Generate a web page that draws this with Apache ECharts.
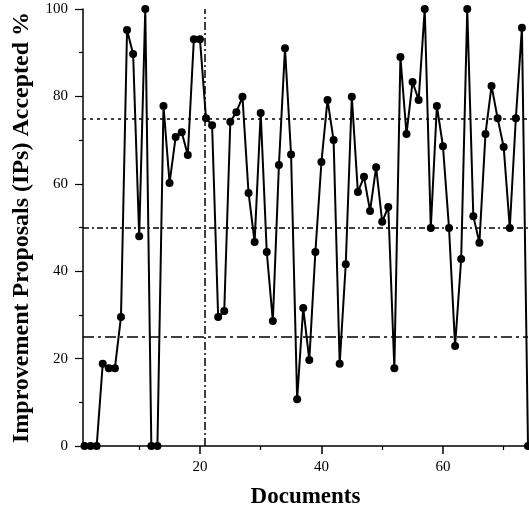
<!DOCTYPE html>
<html>
<head>
<meta charset="utf-8">
<script src="https://cdn.jsdelivr.net/npm/echarts@6/dist/echarts.min.js"></script>
<style>
  html, body { margin: 0; padding: 0; background: #fff; }
  #chart { width: 529px; height: 511px; }
</style>
</head>
<body>
<div id="chart"></div>
<script>
// Document index (1..74)
const documents = Array.from({ length: 74 }, (_, i) => i + 1);

// Percentage of improvement proposals accepted per document
const accepted = [
  0, 0, 0, 18.8, 17.8, 17.8, 29.5, 95.2, 89.7, 48,
  100, 0, 0, 77.8, 60.2, 70.7, 71.8, 66.6, 93.1, 93.1,
  75, 73.4, 29.5, 30.9, 74.2, 76.4, 79.9, 57.9, 46.7, 76.2,
  44.4, 28.6, 64.3, 91, 66.7, 10.7, 31.6, 19.7, 44.4, 65,
  79.2, 70, 18.8, 41.6, 79.9, 58.1, 61.6, 53.8, 63.8, 51.3,
  54.7, 17.8, 89, 71.4, 83.3, 79.2, 100, 49.9, 77.8, 68.6,
  49.9, 22.9, 42.8, 100, 52.6, 46.5, 71.4, 82.4, 75, 68.4,
  49.9, 75, 95.7, 0
];

// Tick positions and labels
const xLabelTicks = [20, 40, 60];
const xMinorTicks = [10, 30, 50, 70];

// Reference levels
const quartileLevels = [75, 50, 25];
const splitDocument = 20.8;

const serif = '"Liberation Serif", "Times New Roman", serif';

const chart = echarts.init(document.getElementById('chart'));

const points = documents.map((d, i) => [d, accepted[i]]);

chart.setOption({
  animation: false,
  backgroundColor: '#fff',
  grid: { left: 83, right: 1, top: 9, bottom: 65, outerBoundsMode: 'none', containLabel: false },
  xAxis: [
    {
      type: 'value',
      min: 0.75,
      max: 74,
      name: 'Documents',
      nameLocation: 'middle',
      nameGap: 40,
      nameTextStyle: { fontFamily: serif, fontWeight: 'bold', fontSize: 23, color: '#000' },
      axisLine: { show: true, lineStyle: { color: '#000', width: 1.5 } },
      axisTick: { show: true, customValues: xLabelTicks, length: 8, lineStyle: { color: '#000', width: 1.5 } },
      axisLabel: { show: true, customValues: xLabelTicks, fontFamily: serif, fontSize: 15, color: '#000', margin: 14 },
      splitLine: { show: false }
    },
    {
      type: 'value',
      min: 0.75,
      max: 74,
      position: 'bottom',
      axisLine: { show: false },
      axisTick: { show: true, customValues: xMinorTicks, length: 4, lineStyle: { color: '#000', width: 1.2 } },
      axisLabel: { show: false },
      splitLine: { show: false }
    }
  ],
  yAxis: {
    type: 'value',
    min: 0,
    max: 100,
    interval: 20,
    name: 'Improvement Proposals (IPs) Accepted %',
    nameLocation: 'middle',
    nameGap: 49,
    nameTextStyle: { fontFamily: serif, fontWeight: 'bold', fontSize: 24, color: '#000' },
    axisLine: { show: true, lineStyle: { color: '#000', width: 1.5 } },
    axisTick: { show: true, length: 8, lineStyle: { color: '#000', width: 1.2 } },
    minorTick: { show: true, splitNumber: 2, length: 4, lineStyle: { color: '#000', width: 1.2 } },
    axisLabel: { fontFamily: serif, fontSize: 15, color: '#000', margin: 15 },
    splitLine: { show: false }
  },
  series: [
    {
      type: 'line',
      data: points,
      clip: false,
      symbol: 'circle',
      symbolSize: 8,
      itemStyle: { color: '#000' },
      lineStyle: { color: '#000', width: 2 },
      markLine: {
        silent: true,
        symbol: 'none',
        label: { show: false },
        data: [
          { yAxis: quartileLevels[0], lineStyle: { color: '#000', width: 1.5, type: [3, 4] } },
          { yAxis: quartileLevels[1], lineStyle: { color: '#000', width: 1.5, type: [6, 3, 2, 3] } },
          { yAxis: quartileLevels[2], lineStyle: { color: '#000', width: 1.5, type: [11, 4, 3, 4] } },
          { xAxis: splitDocument, lineStyle: { color: '#000', width: 1.5, type: [8, 3, 2, 3] } }
        ]
      },
      z: 3
    }
  ]
});
</script>
</body>
</html>
